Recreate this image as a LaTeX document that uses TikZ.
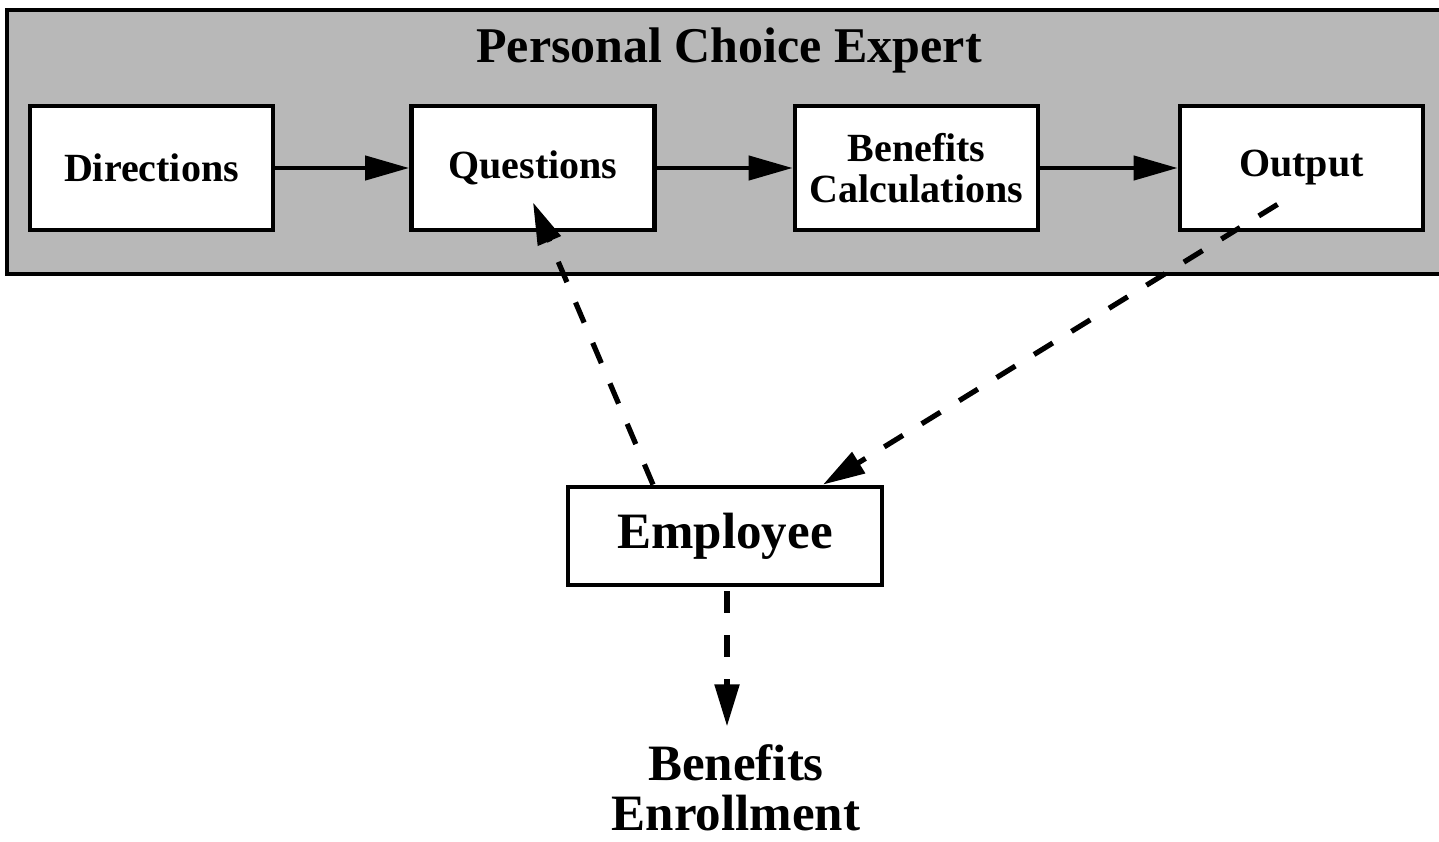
\documentclass[tikz,border=0pt]{standalone}
\usepackage{fontspec}
\setmainfont{Liberation Serif}
\usetikzlibrary{arrows.meta}

\tikzset{
  px/.style={x=0.5pt,y=-0.5pt},
  banner/.style={draw, line width=2pt, fill=black!28, minimum width=721.5pt, minimum height=132pt, inner sep=0pt},
  stage/.style={draw, line width=2.4pt, fill=white, minimum width=121.5pt, minimum height=62pt,
                inner sep=0pt, align=center, font=\fontsize{20}{20.5}\selectfont\bfseries},
  person/.style={draw, line width=2.4pt, fill=white, minimum width=157pt, minimum height=49pt,
                inner sep=0pt, font=\fontsize{25.5}{26}\selectfont\bfseries},
  flow/.style={line width=2.2pt, -{Triangle[length=22pt,width=12pt]}},
  dashflow/.style={line width=2.6pt, dash pattern=on 11pt off 11pt, -{Triangle[length=21pt,width=12pt]}}
}

\begin{document}
\begin{tikzpicture}[px]
  \useasboundingbox (0,0) rectangle (1439,841);
  \fill[white] (0,0) rectangle (1439,841);

  % the expert system as a shaded band
  \node[banner] (pce) at (728.5,142) {};
  \node[font=\fontsize{25}{28}\selectfont\bfseries] (title) at (729,50) {Personal Choice Expert};

  % processing stages
  \node[stage] (dir) at (151.5,168) {Directions};
  \node[stage] (que) at (533,168) {Questions};
  \node[stage] (ben) at (916.5,168) {Benefits\\Calculations};
  \node[stage] (out) at (1301.5,168) {Output};

  \draw[flow] (dir) -- (que);
  \draw[flow] (que) -- (ben);
  \draw[flow] (ben) -- (out);

  % the employee and the enrollment step
  \node[person] (emp) at (725,536) {Employee};
  \node[align=center, inner sep=0pt, font=\fontsize{25.5}{25}\selectfont\bfseries] (enr) at (736,788) {Benefits\\Enrollment};

  \draw[dashflow] ([xshift=-36pt]emp.north) -- ([yshift=15pt]que.south);
  \draw[dashflow] ([xshift=-12pt,yshift=14pt]out.south) -- ([xshift=49pt]emp.north);
  \draw[dashflow] ([xshift=1pt,yshift=-2pt]emp.south) -- ([xshift=1pt,yshift=9pt]emp.south |- enr.north);
\end{tikzpicture}
\end{document}
